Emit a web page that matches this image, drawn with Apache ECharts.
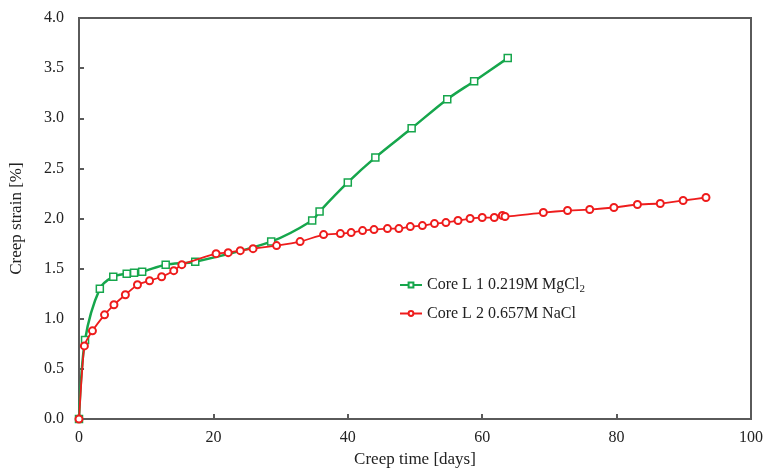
<!DOCTYPE html>
<html>
<head>
<meta charset="utf-8">
<script src="https://cdn.jsdelivr.net/npm/echarts@6/dist/echarts.min.js"></script>
<style>
  html, body { margin: 0; padding: 0; background: #fff; }
  #chart { width: 768px; height: 473px; }
</style>
</head>
<body>
<div id="chart"></div>
<script>
// Core L1, 0.219M MgCl2: [days, strain %]
const mgcl2Data = [
  [0, 0], [0.9, 0.79], [3.1, 1.30], [5.1, 1.42], [7.1, 1.45], [8.2, 1.46],
  [9.4, 1.47], [12.9, 1.54], [17.3, 1.57], [28.6, 1.77], [34.7, 1.98],
  [35.8, 2.07], [40.0, 2.36], [44.1, 2.61], [49.5, 2.90], [54.8, 3.19],
  [58.8, 3.37], [63.8, 3.60]
]
// Core L2, 0.657M NaCl
const naclData = [
  [0, 0], [0.8, 0.73], [2.0, 0.88], [3.8, 1.04], [5.2, 1.14], [6.9, 1.24],
  [8.7, 1.34], [10.5, 1.38], [12.3, 1.42], [14.1, 1.48], [15.3, 1.54],
  [20.4, 1.65], [22.2, 1.66], [24.0, 1.68], [25.9, 1.70], [29.4, 1.73],
  [32.9, 1.77], [36.4, 1.84], [38.9, 1.85], [40.5, 1.86], [42.2, 1.88],
  [43.9, 1.89], [45.9, 1.90], [47.6, 1.90], [49.3, 1.92], [51.1, 1.93],
  [52.9, 1.95], [54.6, 1.96], [56.4, 1.98], [58.2, 2.00], [60.0, 2.01],
  [61.8, 2.01], [63.0, 2.03], [63.4, 2.02], [69.1, 2.06], [72.7, 2.08],
  [76.0, 2.09], [79.6, 2.11], [83.1, 2.14], [86.5, 2.15], [89.9, 2.18],
  [93.3, 2.21]
]
const seriesNames = ['Core L 1 0.219M MgCl2', 'Core L 2 0.657M NaCl']

const GREEN = '#16a64c'
const RED = '#ee1c1c'
const AXIS = '#5a5a5a'
const FONT = '"Liberation Serif", "Times New Roman", serif'

const chart = echarts.init(document.getElementById('chart'))

chart.setOption({
  animation: false,
  textStyle: { fontFamily: FONT },
  grid: {
    left: 78, right: 17, top: 18, bottom: 53,
    show: true, borderColor: AXIS, borderWidth: 2, backgroundColor: '#fff'
  },
  legend: {
    left: 394, top: 272,
    orient: 'vertical',
    itemGap: 11,
    itemWidth: 22, itemHeight: 6,
    data: seriesNames,
    textStyle: {
      fontFamily: FONT, fontSize: 16, color: '#222',
      rich: { sub: { fontFamily: FONT, fontSize: 11, verticalAlign: 'bottom', padding: [8, 0, 0, 0], color: '#222' } }
    },
    formatter: name => name.endsWith('MgCl2') ? name.slice(0, -1) + '{sub|2}' : name
  },
  xAxis: {
    type: 'value', min: 0, max: 100, interval: 20,
    name: 'Creep time [days]', nameLocation: 'middle', nameGap: 31,
    nameTextStyle: { fontFamily: FONT, fontSize: 17, color: '#222' },
    axisLine: { lineStyle: { color: AXIS, width: 2 } },
    axisTick: { inside: true, length: 5, lineStyle: { color: AXIS, width: 2 } },
    axisLabel: { fontFamily: FONT, fontSize: 16, color: '#222', margin: 11 },
    splitLine: { show: false }
  },
  yAxis: {
    type: 'value', min: 0, max: 4, interval: 0.5,
    name: 'Creep strain [%]', nameLocation: 'middle', nameGap: 54,
    nameTextStyle: { fontFamily: FONT, fontSize: 17, color: '#222' },
    axisLine: { show: true, lineStyle: { color: AXIS, width: 2 } },
    axisTick: { show: true, inside: true, length: 5, lineStyle: { color: AXIS, width: 2 } },
    axisLabel: { fontFamily: FONT, fontSize: 16, color: '#222', margin: 15, formatter: v => v.toFixed(1) },
    splitLine: { show: false }
  },
  series: [
    {
      name: seriesNames[0],
      type: 'line',
      data: mgcl2Data,
      smooth: 0.3,
      symbol: 'rect',
      symbolSize: 7,
      z: 2,
      lineStyle: { color: GREEN, width: 2.5 },
      itemStyle: { color: '#fff', borderColor: GREEN, borderWidth: 1.5 }
    },
    {
      name: seriesNames[1],
      type: 'line',
      data: naclData,
      smooth: 0.15,
      symbol: 'emptyCircle',
      symbolSize: 7,
      z: 3,
      lineStyle: { color: RED, width: 1.8 },
      itemStyle: { color: RED, borderColor: RED, borderWidth: 1.5 }
    }
  ]
})
</script>
</body>
</html>
